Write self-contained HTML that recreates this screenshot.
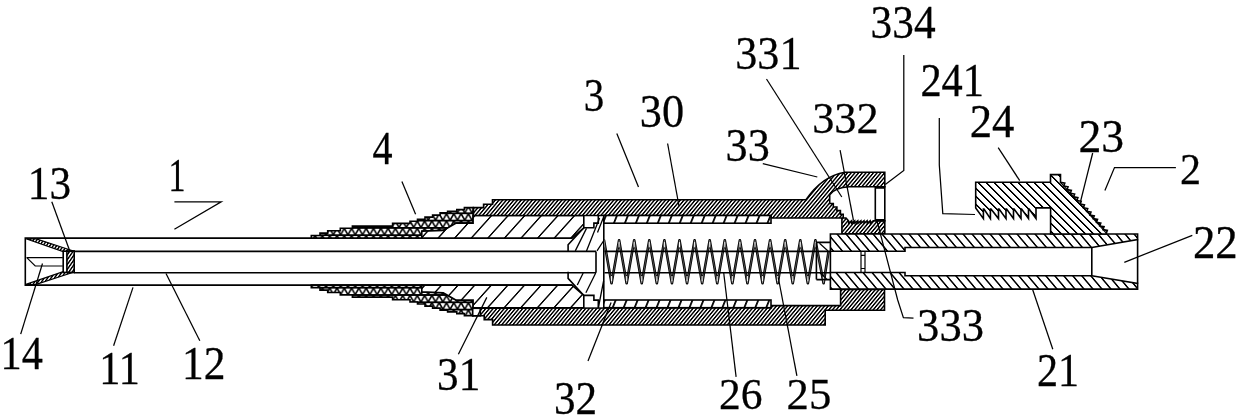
<!DOCTYPE html>
<html><head><meta charset="utf-8"><title>Figure</title>
<style>html,body{margin:0;padding:0;background:#fff;}body{width:1240px;height:419px;overflow:hidden;font-family:"Liberation Serif",serif;}svg{display:block;}</style></head>
<body>
<svg width="1240" height="419" viewBox="0 0 1240 419">
<defs>
<pattern id="hd" width="3.7" height="40" patternUnits="userSpaceOnUse" patternTransform="skewX(-40)">
  <rect width="3.7" height="40" fill="#fff"/><rect x="0" width="1.9" height="40" fill="#000"/>
</pattern>
<pattern id="hw" width="16.6" height="40" patternUnits="userSpaceOnUse" patternTransform="translate(4.1 0) skewX(-42)">
  <rect width="16.6" height="40" fill="#fff"/><rect x="0" width="1.9" height="40" fill="#000"/>
</pattern>
<pattern id="hwb" width="16.6" height="40" patternUnits="userSpaceOnUse" patternTransform="translate(0.1 0) skewX(-42)">
  <rect width="16.6" height="40" fill="#fff"/><rect x="0" width="1.9" height="40" fill="#000"/>
</pattern>
<pattern id="h32" width="10.97" height="40" patternUnits="userSpaceOnUse" patternTransform="translate(1.0 0) skewX(-22)">
  <rect width="10.97" height="40" fill="#fff"/><rect x="0" width="1.9" height="40" fill="#000"/>
</pattern>
<pattern id="h21" width="9" height="40" patternUnits="userSpaceOnUse" patternTransform="translate(0.7 0) skewX(40)">
  <rect width="9" height="40" fill="#fff"/><rect x="0" width="2.0" height="40" fill="#000"/>
</pattern>
<pattern id="h21b" width="9" height="40" patternUnits="userSpaceOnUse" patternTransform="translate(3.4 0) skewX(40)">
  <rect width="9" height="40" fill="#fff"/><rect x="0" width="2.0" height="40" fill="#000"/>
</pattern>
<pattern id="h24" width="8" height="40" patternUnits="userSpaceOnUse" patternTransform="translate(2.5 0) skewX(45)">
  <rect width="8" height="40" fill="#fff"/><rect x="0" width="2.1" height="40" fill="#000"/>
</pattern>
<pattern id="hn" width="3.4" height="40" patternUnits="userSpaceOnUse" patternTransform="skewX(-35)">
  <rect width="3.4" height="40" fill="#fff"/><rect x="0" width="1.8" height="40" fill="#000"/>
</pattern>
<pattern id="tri" width="7.3" height="7.3" patternUnits="userSpaceOnUse" patternTransform="translate(1.2 1.6)">
  <rect width="7.3" height="7.3" fill="#fff"/>
  <path d="M0,0 H7.3 M0,7.3 H7.3" stroke="#000" stroke-width="1.7" fill="none"/>
  <path d="M0,0.4 L3.65,6.9 L7.3,0.4" stroke="#000" stroke-width="1.6" fill="none"/>
</pattern>
<pattern id="trib" width="7.3" height="7.3" patternUnits="userSpaceOnUse" patternTransform="translate(1.2 3.0)">
  <rect width="7.3" height="7.3" fill="#fff"/>
  <path d="M0,0 H7.3 M0,7.3 H7.3" stroke="#000" stroke-width="1.7" fill="none"/>
  <path d="M0,0.4 L3.65,6.9 L7.3,0.4" stroke="#000" stroke-width="1.6" fill="none"/>
</pattern>
</defs>
<rect width="1240" height="419" fill="#fff"/>
<g fill="none" stroke="#000" stroke-width="1.60" stroke-linejoin="miter" stroke-linecap="butt">
<path d="M572,238.10 L25.3,238.10 L25.3,285.10 L572,285.10" />
<path d="M583.6,228 L568.1,244.8 V251.4 M583.6,295.20 L568.1,278.40 V271.80"/>
<path d="M74.2,251.4 H596 M74.2,272.7 H596 M596,251.4 V272.7"/>
<polygon points="25.90,238.80 35.50,238.60 74.20,251.20 63.20,251.60" fill="url(#hn)" stroke-width="1.2"/>
<polygon points="25.90,284.40 35.50,284.60 74.20,272.00 63.20,271.60" fill="url(#hn)" stroke-width="1.2"/>
<rect x="63.2" y="251.2" width="11" height="21.2" fill="#fff"/>
<rect x="66.9" y="251.2" width="7.3" height="21.2" fill="url(#hn)"/>
<path d="M26.5,257.6 H62.8 M27,257.8 L35.2,266 H62.8" stroke-width="1.2"/>
<polygon points="311.30,238.10 311.30,235.50 320.00,235.50 320.00,233.10 327.70,233.10 327.70,230.70 340.30,230.70 340.30,228.20 352.40,228.20 352.40,226.10 392.60,226.10 392.60,223.40 410.00,223.40 410.00,221.20 417.50,221.20 417.50,219.20 425.00,219.20 425.00,217.10 432.60,217.10 432.60,215.10 440.10,215.10 440.10,212.90 447.60,212.90 447.60,211.30 456.80,211.30 456.80,209.60 464.40,209.60 464.40,207.60 473.10,207.60 473.10,223.10 456.20,223.10 443.30,230.40 421.80,231.30 421.80,238.10" fill="url(#tri)"/>
<polygon points="421.80,238.10 421.80,231.30 443.30,230.40 456.20,223.10 473.10,223.10 473.10,215.50 583.80,215.50 583.80,227.80 572.00,238.10" fill="url(#hw)"/>
<polygon points="311.30,285.10 311.30,287.70 320.00,287.70 320.00,290.10 327.70,290.10 327.70,292.50 340.30,292.50 340.30,295.00 352.40,295.00 352.40,297.10 392.60,297.10 392.60,299.80 410.00,299.80 410.00,302.00 417.50,302.00 417.50,304.00 425.00,304.00 425.00,306.10 432.60,306.10 432.60,308.10 440.10,308.10 440.10,310.30 447.60,310.30 447.60,311.90 456.80,311.90 456.80,313.60 464.40,313.60 464.40,315.60 473.10,315.60 473.10,300.10 456.20,300.10 443.30,292.80 421.80,291.90 421.80,285.10" fill="url(#trib)"/>
<polygon points="421.80,285.10 421.80,291.90 443.30,292.80 456.20,300.10 473.10,300.10 473.10,307.70 583.80,307.70 583.80,295.40 572.00,285.10" fill="url(#hwb)"/>
<path d="M473.5,215.5 L473.5,207.6 L483.6,207.6 L483.6,204.2 L492.5,204.2 L492.5,199.8 L806,199.8 Q822,176 845,172.2 L884.8,172.2 L884.8,186.8 L849.4,186.8 Q835,187.5 829.7,194.8 L829.7,203.5 L833.3,203.5 L833.3,207 L836.9,207 L836.9,210.6 L840.4,210.6 L840.4,214.2 L843.2,214.2 L843.2,218 L846,218 L848.5,220.8 L848.70,223.20 L851.60,220.80 L851.80,223.20 L854.70,220.80 L854.90,223.20 L857.80,220.80 L858.00,223.20 L860.90,220.80 L861.10,223.20 L864.00,220.80 L864.20,223.20 L867.10,220.80 L867.30,223.20 L870.20,220.80 L870.40,223.20 L873.30,220.80 L875.3,220.8 L884.8,220.8 L884.8,233.8 L841.9,233.8 L841.9,218 L771,218 L771,215.5 Z" fill="url(#hd)"/>
<path d="M472.7,308.3 L472.7,315.8 L484.2,315.8 L484.2,319.6 L492.6,319.6 L492.6,325 L825.2,325 L825.2,310.2 L884.5,310.2 L884.5,289.4 L840.6,289.4 L840.6,305.6 L771,305.6 L771,307.70 Z" fill="url(#hd)"/>
<rect x="472.7" y="308.3" width="7.6" height="7.5" fill="#fff"/>
<rect x="875.3" y="186.8" width="9.5" height="34" fill="#fff"/>
<path d="M875.3,187.6 H884.8 M875.3,220.2 H884.8" stroke-width="2.2"/>
<rect x="603.8" y="215.50" width="167.2" height="7.70" fill="url(#h32)"/>
<rect x="603.8" y="300.00" width="167.2" height="7.70" fill="url(#h32)"/>
<path d="M603.8,223.2 V300.00"/>
<path d="M583.8,227.80 H593.9 V223.10 H598.3 V215.50" />
<path d="M583.8,295.40 H593.9 V300.10 H598.3 V307.70" />
<path d="M599.6,217.9 L586.5,250.9 M586.5,228.4 L575.3,250.9 M603.8,216.5 L597.5,232.5 M603.8,240.5 L597,250.9" stroke-width="1.3"/>
<path d="M583.2,273 L577.3,285 M595.7,273 L585.9,292.8 M603.6,281 L598.3,308" stroke-width="1.3"/>
<clipPath id="cs"><rect x="604.5" y="230" width="225.5" height="62"/></clipPath>
<g clip-path="url(#cs)"><path d="M598.45,272.00 L604.00,240.30 L611.55,283.20 L619.10,240.30 L626.65,283.20 L634.20,240.30 L641.75,283.20 L649.30,240.30 L656.85,283.20 L664.40,240.30 L671.95,283.20 L679.50,240.30 L687.05,283.20 L694.60,240.30 L702.15,283.20 L709.70,240.30 L717.25,283.20 L724.80,240.30 L732.35,283.20 L739.90,240.30 L747.45,283.20 L755.00,240.30 L762.55,283.20 L770.10,240.30 L777.65,283.20 L785.20,240.30 L792.75,283.20 L800.30,240.30 L807.85,283.20 L815.40,240.30 L823.60,283.20 L828.40,252.50" stroke="#000" stroke-width="2.6" stroke-linejoin="round" stroke-linecap="round"/>
<path d="M598.45,272.00 L604.00,240.30 L611.55,283.20 L619.10,240.30 L626.65,283.20 L634.20,240.30 L641.75,283.20 L649.30,240.30 L656.85,283.20 L664.40,240.30 L671.95,283.20 L679.50,240.30 L687.05,283.20 L694.60,240.30 L702.15,283.20 L709.70,240.30 L717.25,283.20 L724.80,240.30 L732.35,283.20 L739.90,240.30 L747.45,283.20 L755.00,240.30 L762.55,283.20 L770.10,240.30 L777.65,283.20 L785.20,240.30 L792.75,283.20 L800.30,240.30 L807.85,283.20 L815.40,240.30 L823.60,283.20 L828.40,252.50" stroke="#fff" stroke-width="0.3" stroke-linejoin="round" stroke-linecap="round"/>
<path d="M604.00,242.50 V247.10 M611.55,281.00 V276.40 M619.10,242.50 V247.10 M626.65,281.00 V276.40 M634.20,242.50 V247.10 M641.75,281.00 V276.40 M649.30,242.50 V247.10 M656.85,281.00 V276.40 M664.40,242.50 V247.10 M671.95,281.00 V276.40 M679.50,242.50 V247.10 M687.05,281.00 V276.40 M694.60,242.50 V247.10 M702.15,281.00 V276.40 M709.70,242.50 V247.10 M717.25,281.00 V276.40 M724.80,242.50 V247.10 M732.35,281.00 V276.40 M739.90,242.50 V247.10 M747.45,281.00 V276.40 M755.00,242.50 V247.10 M762.55,281.00 V276.40 M770.10,242.50 V247.10 M777.65,281.00 V276.40 M785.20,242.50 V247.10 M792.75,281.00 V276.40 M800.30,242.50 V247.10 M807.85,281.00 V276.40 M815.40,242.50 V247.10 M823.60,281.00 V276.40 " stroke="#fff" stroke-width="1.0" stroke-linecap="round"/></g>
<path d="M604.5,251.4 H830.4 M604.5,272.7 H830.4"/>
<path d="M816.4,242.4 H830.4 M816.4,279.6 H830.4 M816.4,242.4 V279.6"/>
<path d="M819.5,243.2 L828,251 M820,272.8 L827,279.4" stroke-width="1.2"/>
<path d="M830.4,234 H1137.6 V239.6 L1091.8,247.5 H905 V251.2 H830.4 Z" fill="url(#h21)"/>
<path d="M830.4,289.1 H1137.6 V283.4 L1091.8,275.7 H905 V272.5 H830.4 Z" fill="url(#h21b)"/>
<path d="M830.4,251.2 V272.5 M1091.8,247.5 V275.7 M1137.6,239.6 V283.4"/>
<path d="M861,251.2 V255.3 H865 V251.2 M861,272.5 V268.5 H865 V272.5 M861,255.3 V268.5 M865,255.3 V268.5" stroke-width="1.2"/>
<path d="M975.7,182.3 H1050.5 V174.6 H1060.5 V182.3 L1064.77,183.10 L1063.77,185.94 L1068.04,186.74 L1067.04,189.57 L1071.31,190.37 L1070.31,193.21 L1074.59,194.01 L1073.59,196.84 L1077.86,197.64 L1076.86,200.48 L1081.13,201.28 L1080.13,204.11 L1084.40,204.91 L1083.40,207.75 L1087.67,208.55 L1086.67,211.39 L1090.94,212.19 L1089.94,215.02 L1094.21,215.82 L1093.21,218.66 L1097.49,219.46 L1096.49,222.29 L1100.76,223.09 L1099.76,225.93 L1104.03,226.73 L1103.03,229.56 L1107.30,230.36 L1106.30,233.20 L1106.3,234 H1050.6 V207.9 H1036 V218.6 L1029.10,209.00 L1028.50,209.00 L1028.50,218.60 L1021.60,209.00 L1021.00,209.00 L1021.00,218.60 L1014.10,209.00 L1013.50,209.00 L1013.50,218.60 L1006.60,209.00 L1006.00,209.00 L1006.00,218.60 L999.10,209.00 L998.50,209.00 L998.50,218.60 L991.00,209.00 L990.40,209.00 L990.40,218.60 L984.00,209.00 L983.40,209.00 L983.40,218.60 L975.7,207.9 Z" fill="url(#h24)"/>
<path d="M1060.5,182.3 L1106.3,233.2" stroke-width="1.2"/>
</g>
<g fill="none" stroke="#000" stroke-width="1.25" stroke-linejoin="miter">
<polyline points="903.80,55.00 903.80,170.50 885.30,184.50"/>
<polyline points="766.50,79.00 841.80,197.00"/>
<polyline points="939.30,118.00 939.30,165.00 942.80,213.60 975.00,214.50"/>
<polyline points="840.10,150.20 853.50,220.60"/>
<polyline points="616.80,133.50 638.50,187.00"/>
<polyline points="667.60,143.50 679.00,206.00"/>
<polyline points="762.80,163.60 817.30,177.00"/>
<polyline points="998.20,147.70 1019.70,180.60"/>
<polyline points="1092.70,153.00 1080.50,201.70"/>
<polyline points="1175.90,167.50 1114.50,167.50 1104.90,190.60"/>
<polyline points="1192.30,235.30 1124.30,262.30"/>
<polyline points="51.80,201.80 69.50,250.30"/>
<polyline points="174.40,201.80 221.20,201.80 174.40,229.20"/>
<polyline points="20.70,334.10 42.50,263.50"/>
<polyline points="113.60,345.80 133.00,287.40"/>
<polyline points="166.00,273.50 199.80,340.80"/>
<polyline points="458.40,354.20 486.80,297.40"/>
<polyline points="588.00,360.90 611.10,302.40"/>
<polyline points="736.10,376.90 723.70,272.70"/>
<polyline points="796.90,375.90 778.30,277.50"/>
<polyline points="913.50,318.20 903.40,317.60 897.70,300.00 876.50,219.00"/>
<polyline points="1052.80,349.20 1032.70,289.70"/>
<polyline points="401.90,181.60 415.60,214.20"/>
</g>
<g font-family="'Liberation Serif', serif" font-size="48" fill="#000" stroke="#000" stroke-width="0.3" opacity="0.999">
<text transform="matrix(0.9042 0 0 0.9626 870.50 37.50)" x="0" y="0">334</text>
<text transform="matrix(0.9201 0 0 0.9516 735.27 68.94)" x="0" y="0">331</text>
<text transform="matrix(0.8837 0 0 0.9574 920.39 96.34)" x="0" y="0">241</text>
<text transform="matrix(0.9237 0 0 0.9132 812.19 133.34)" x="0" y="0">332</text>
<text transform="matrix(0.8546 0 0 0.9671 583.83 111.39)" x="0" y="0">3</text>
<text transform="matrix(0.9231 0 0 0.9726 639.77 127.38)" x="0" y="0">30</text>
<text transform="matrix(0.9208 0 0 0.9532 725.54 161.17)" x="0" y="0">33</text>
<text transform="matrix(0.9310 0 0 0.9639 969.70 137.34)" x="0" y="0">24</text>
<text transform="matrix(0.9519 0 0 0.9648 1078.48 151.74)" x="0" y="0">23</text>
<text transform="matrix(0.8750 0 0 0.9400 1180.06 184.14)" x="0" y="0">2</text>
<text transform="matrix(0.9335 0 0 0.9652 1192.88 258.34)" x="0" y="0">22</text>
<text transform="matrix(0.9019 0 0 0.9829 27.81 198.90)" x="0" y="0">13</text>
<text transform="matrix(0.7079 0 0 0.9790 168.39 191.34)" x="0" y="0">1</text>
<text transform="matrix(0.8812 0 0 0.9832 0.55 369.14)" x="0" y="0">14</text>
<text transform="matrix(0.8783 0 0 0.9726 99.17 383.74)" x="0" y="0">11</text>
<text transform="matrix(0.9050 0 0 0.9713 182.03 378.74)" x="0" y="0">12</text>
<text transform="matrix(0.8994 0 0 0.9781 437.07 390.34)" x="0" y="0">31</text>
<text transform="matrix(0.8987 0 0 0.9719 554.00 413.94)" x="0" y="0">32</text>
<text transform="matrix(0.9065 0 0 0.9445 719.00 409.29)" x="0" y="0">26</text>
<text transform="matrix(0.9325 0 0 0.9432 786.54 409.30)" x="0" y="0">25</text>
<text transform="matrix(0.9306 0 0 0.9887 917.10 340.69)" x="0" y="0">333</text>
<text transform="matrix(0.8762 0 0 0.9842 1036.94 385.54)" x="0" y="0">21</text>
<text transform="matrix(0.8350 0 0 0.9768 372.56 164.14)" x="0" y="0">4</text>
</g>
</svg>
</body></html>
